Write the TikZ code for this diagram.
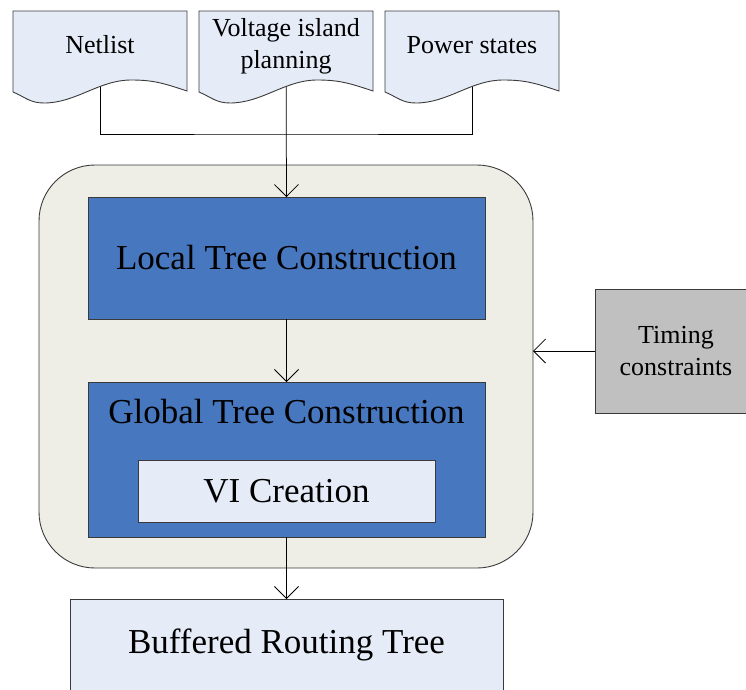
\documentclass[tikz,border=0pt]{standalone}
\usepackage{fontspec}
\setmainfont{LiberationSerif}[Extension=.ttf,UprightFont=*-Regular]
\usetikzlibrary{arrows.meta}

\definecolor{docfill}{HTML}{E6ECF7}
\definecolor{blockblue}{HTML}{4677BF}
\definecolor{panelfill}{HTML}{EEEEE6}
\definecolor{greyfill}{HTML}{C0C0C0}
\definecolor{edge}{HTML}{3A3A3A}

% document sheet with a wavy lower edge; #1 = left x, width 174, top at y=11
\newcommand\docsheet[1]{%
  \path[outline,fill=docfill] (#1,11) -- ++(174,0) -- ++(0,80)
    .. controls +(-24,-8) and +(22,0) .. ++(-56,-11)
    .. controls +(-32,0) and +(32,0) .. ++(-87,23)
    .. controls +(-14,0) and +(12,5) .. ++(-31,-11) -- cycle;}

\begin{document}
\begin{tikzpicture}[x=1pt,y=-1pt,
  outline/.style={draw=edge,line width=0.9pt},
  link/.style={draw=black,line width=0.75pt},
  arrowlink/.style={link,-{Straight Barb[length=12pt,width=24pt,line width=0.75pt]}},
  bigtext/.style={font=\fontsize{35}{40}\selectfont},
  smalltext/.style={font=\fontsize{26}{32}\selectfont,align=center},
  boxbase/.style={outline,rectangle,inner sep=0pt,outer sep=0pt},
  bluebox/.style={boxbase,fill=blockblue},
  lightbox/.style={boxbase,fill=docfill},
  greybox/.style={boxbase,fill=greyfill}]

\useasboundingbox (0,0) rectangle (746,689);

% processing panel
\path[outline,fill=panelfill,rounded corners=56pt] (39,165) rectangle (533,568);
\coordinate (panelE) at (533,351);

% inner blocks
\node[bluebox,bigtext,minimum width=397pt,minimum height=122pt] (local) at (286.5,258) {Local Tree Construction};
\node[bluebox,minimum width=397pt,minimum height=155pt] (global) at (286.5,459.5) {};
\node[bigtext] (gtitle) at (286.5,412) {Global Tree Construction};
\node[lightbox,bigtext,minimum width=297pt,minimum height=62pt] (vi) at (286.5,491) {VI Creation};

% output and side input
\node[lightbox,bigtext,minimum width=433pt,minimum height=92pt] (buf) at (286.5,645) {Buffered Routing Tree};
\node[greybox,smalltext,minimum width=162pt,minimum height=124pt] (timing) at (676,351) {Timing\\constraints};

% input documents (text anchors)
\coordinate (net) at (100,45);
\coordinate (vip) at (286,46);
\coordinate (pst) at (472,45);
\coordinate (join) at (286,134);

% connectors
\draw[link] (net) |- (join) -| (pst);
\draw[arrowlink] (vip) -- (local.north);
\draw[arrowlink] (local.south) -- (global.north);
\draw[arrowlink] (global.south) -- (buf.north);
\draw[arrowlink] (timing.west) -- (panelE);

% document sheets drawn over the connector ends
\docsheet{13}
\docsheet{199}
\docsheet{385}
\node[smalltext] (nettext) at (net) {Netlist};
\node[smalltext] (viptext) at (vip) {Voltage island\\planning};
\node[smalltext] (psttext) at (pst) {Power states};
\end{tikzpicture}
\end{document}
